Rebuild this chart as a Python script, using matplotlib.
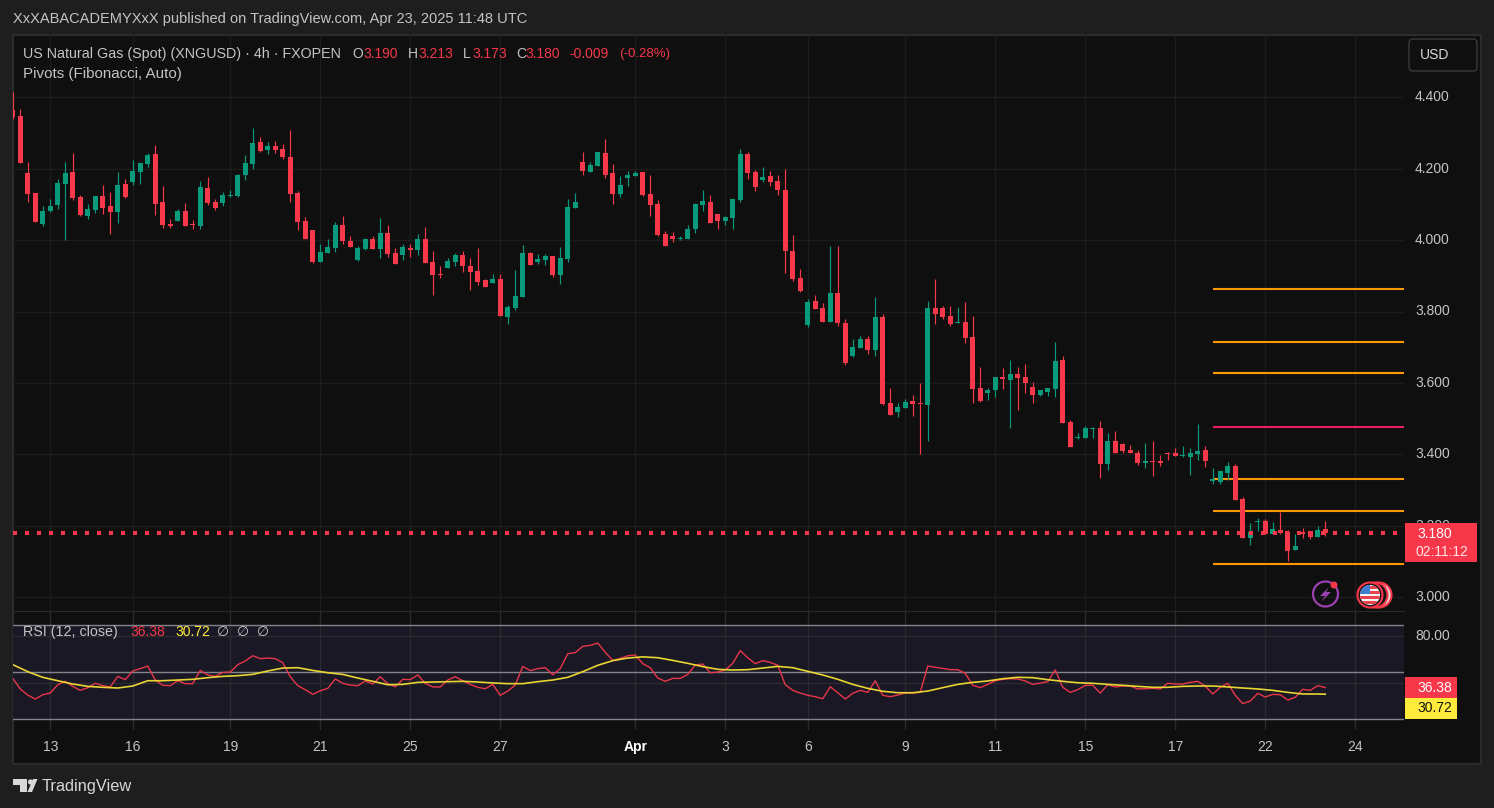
import matplotlib
matplotlib.use("Agg")
import matplotlib.pyplot as plt
from matplotlib.patches import Circle, FancyBboxPatch, Polygon, Rectangle
from matplotlib.transforms import ScaledTranslation

plt.rcParams["font.family"] = ["Liberation Sans", "DejaVu Sans"]

# candles, 4h bars
open_ = [
    4.364, 4.348, 4.188, 4.132, 4.045, 4.082, 4.099, 4.157, 4.191, 4.121,
    4.068, 4.085, 4.124, 4.096, 4.079, 4.157, 4.163, 4.191, 4.213, 4.241,
    4.107, 4.045, 4.054, 4.082, 4.045, 4.040, 4.146, 4.107, 4.104, 4.124,
    4.124, 4.183, 4.213, 4.275, 4.253, 4.264, 4.255, 4.233, 4.132, 4.054,
    4.029, 3.939, 3.964, 3.978, 4.043, 3.998, 3.945, 3.975, 4.003, 3.975,
    4.020, 3.964, 3.959, 3.978, 3.973, 4.003, 3.939, 3.905, 3.922, 3.939,
    3.959, 3.928, 3.914, 3.889, 3.880, 3.891, 3.785, 3.810, 3.841, 3.964,
    3.939, 3.945, 3.956, 3.903, 3.947, 4.090, 4.219, 4.191, 4.208, 4.244,
    4.188, 4.129, 4.174, 4.180, 4.191, 4.129, 4.101, 4.017, 4.012, 4.003,
    4.003, 4.031, 4.099, 4.107, 4.073, 4.054, 4.062, 4.113, 4.241, 4.191,
    4.168, 4.180, 4.166, 4.140, 3.970, 3.894, 3.763, 3.830, 3.810, 3.771,
    3.852, 3.768, 3.676, 3.698, 3.723, 3.693, 3.785, 3.544, 3.519, 3.530,
    3.550, 3.544, 3.539, 3.810, 3.810, 3.788, 3.768, 3.771, 3.729, 3.586,
    3.572, 3.581, 3.617, 3.609, 3.625, 3.617, 3.589, 3.567, 3.575, 3.583,
    3.664, 3.491, 3.446, 3.446, 3.471, 3.474, 3.373, 3.438, 3.429, 3.413,
    3.404, 3.376, 3.382, 3.382, 3.404, 3.404, 3.396, 3.393, 3.401, 3.413,
    3.326, 3.323, 3.348, 3.368, 3.275, 3.166, 3.211, 3.214, 3.177, 3.188,
    3.183, 3.133, 3.183, 3.186, 3.169, 3.190,
]
high = [
    4.415, 4.367, 4.219, 4.132, 4.096, 4.115, 4.171, 4.219, 4.244, 4.127,
    4.101, 4.124, 4.155, 4.135, 4.191, 4.171, 4.225, 4.216, 4.244, 4.267,
    4.152, 4.059, 4.087, 4.104, 4.057, 4.166, 4.177, 4.115, 4.135, 4.141,
    4.185, 4.238, 4.314, 4.289, 4.275, 4.278, 4.269, 4.308, 4.138, 4.065,
    4.029, 3.989, 4.003, 4.051, 4.068, 4.012, 3.984, 4.006, 4.012, 4.062,
    4.043, 3.978, 3.989, 3.989, 4.017, 4.037, 3.970, 3.928, 3.950, 3.964,
    3.970, 3.950, 3.978, 3.891, 3.905, 3.905, 3.819, 3.917, 3.987, 3.967,
    3.961, 3.961, 3.956, 3.981, 4.115, 4.132, 4.247, 4.219, 4.247, 4.283,
    4.213, 4.180, 4.194, 4.194, 4.191, 4.182, 4.113, 4.026, 4.023, 4.012,
    4.043, 4.104, 4.140, 4.127, 4.073, 4.068, 4.115, 4.255, 4.247, 4.196,
    4.205, 4.194, 4.182, 4.199, 4.015, 3.919, 3.835, 3.847, 3.824, 3.984,
    3.984, 3.779, 3.723, 3.732, 3.732, 3.841, 3.793, 3.586, 3.544, 3.556,
    3.567, 3.600, 3.830, 3.891, 3.816, 3.816, 3.813, 3.827, 3.788, 3.645,
    3.586, 3.617, 3.642, 3.664, 3.645, 3.653, 3.603, 3.581, 3.586, 3.715,
    3.676, 3.497, 3.460, 3.480, 3.477, 3.494, 3.460, 3.466, 3.432, 3.427,
    3.413, 3.432, 3.438, 3.399, 3.407, 3.418, 3.424, 3.418, 3.485, 3.424,
    3.362, 3.354, 3.379, 3.373, 3.281, 3.208, 3.222, 3.219, 3.211, 3.239,
    3.188, 3.177, 3.194, 3.186, 3.200, 3.213,
]
low = [
    4.340, 4.216, 4.107, 4.051, 4.040, 4.079, 4.087, 4.000, 4.113, 4.068,
    4.059, 4.076, 4.073, 4.017, 4.048, 4.118, 4.155, 4.157, 4.205, 4.071,
    4.034, 4.034, 4.054, 4.040, 4.031, 4.031, 4.099, 4.085, 4.096, 4.121,
    4.121, 4.169, 4.199, 4.247, 4.241, 4.244, 4.227, 4.107, 4.029, 4.003,
    3.936, 3.939, 3.964, 3.967, 3.989, 3.981, 3.942, 3.973, 3.975, 3.950,
    3.953, 3.933, 3.945, 3.953, 3.959, 3.936, 3.847, 3.894, 3.922, 3.928,
    3.911, 3.861, 3.875, 3.869, 3.880, 3.788, 3.765, 3.805, 3.841, 3.931,
    3.933, 3.931, 3.897, 3.877, 3.939, 4.090, 4.182, 4.191, 4.208, 4.174,
    4.101, 4.121, 4.152, 4.180, 4.124, 4.068, 4.012, 3.984, 3.995, 4.001,
    4.003, 4.020, 4.082, 4.048, 4.031, 4.043, 4.031, 4.107, 4.171, 4.138,
    4.163, 4.152, 4.127, 3.908, 3.886, 3.855, 3.757, 3.807, 3.771, 3.771,
    3.760, 3.651, 3.673, 3.698, 3.681, 3.676, 3.539, 3.511, 3.505, 3.530,
    3.508, 3.402, 3.438, 3.765, 3.779, 3.760, 3.768, 3.712, 3.544, 3.547,
    3.553, 3.561, 3.583, 3.474, 3.525, 3.572, 3.544, 3.564, 3.564, 3.561,
    3.488, 3.421, 3.443, 3.446, 3.446, 3.334, 3.357, 3.404, 3.404, 3.404,
    3.371, 3.362, 3.340, 3.368, 3.385, 3.396, 3.393, 3.343, 3.385, 3.365,
    3.317, 3.317, 3.329, 3.273, 3.166, 3.147, 3.186, 3.177, 3.177, 3.177,
    3.102, 3.133, 3.166, 3.163, 3.169, 3.173,
]
close = [
    4.345, 4.216, 4.129, 4.051, 4.082, 4.096, 4.160, 4.188, 4.118, 4.071,
    4.087, 4.124, 4.090, 4.079, 4.155, 4.121, 4.194, 4.216, 4.238, 4.101,
    4.043, 4.040, 4.082, 4.040, 4.043, 4.149, 4.104, 4.090, 4.127, 4.127,
    4.183, 4.216, 4.272, 4.250, 4.264, 4.253, 4.233, 4.129, 4.051, 4.003,
    3.939, 3.967, 3.981, 4.043, 3.998, 3.981, 3.978, 4.003, 3.975, 4.020,
    3.961, 3.933, 3.981, 3.973, 4.003, 3.936, 3.903, 3.903, 3.942, 3.959,
    3.928, 3.911, 3.883, 3.869, 3.891, 3.788, 3.813, 3.844, 3.964, 3.931,
    3.947, 3.956, 3.903, 3.950, 4.093, 4.107, 4.194, 4.210, 4.247, 4.182,
    4.129, 4.155, 4.182, 4.188, 4.126, 4.099, 4.015, 3.984, 4.003, 4.006,
    4.031, 4.101, 4.110, 4.048, 4.054, 4.065, 4.115, 4.241, 4.188, 4.149,
    4.177, 4.163, 4.140, 3.970, 3.891, 3.858, 3.827, 3.807, 3.771, 3.852,
    3.768, 3.656, 3.701, 3.723, 3.693, 3.785, 3.542, 3.511, 3.533, 3.547,
    3.542, 3.542, 3.810, 3.793, 3.785, 3.765, 3.771, 3.726, 3.583, 3.550,
    3.581, 3.617, 3.611, 3.625, 3.614, 3.600, 3.567, 3.581, 3.586, 3.662,
    3.488, 3.421, 3.449, 3.474, 3.474, 3.373, 3.438, 3.404, 3.410, 3.404,
    3.376, 3.382, 3.379, 3.376, 3.401, 3.396, 3.399, 3.404, 3.410, 3.382,
    3.331, 3.354, 3.368, 3.273, 3.166, 3.183, 3.214, 3.177, 3.191, 3.180,
    3.130, 3.144, 3.177, 3.169, 3.188, 3.180,
]

rsi = [
    44.2, 35.2, 30.0, 26.6, 30.3, 31.7, 38.8, 41.7, 37.4, 34.0,
    36.3, 40.0, 38.0, 36.9, 45.9, 43.1, 50.5, 52.5, 54.7, 42.8,
    38.3, 38.0, 42.2, 39.7, 39.7, 51.0, 47.1, 45.9, 49.3, 49.6,
    55.9, 59.0, 63.5, 61.0, 61.5, 61.0, 57.6, 45.6, 38.0, 34.6,
    30.6, 33.7, 35.7, 43.7, 40.0, 38.5, 38.0, 42.0, 39.4, 45.6,
    39.7, 37.1, 43.4, 43.1, 47.1, 40.0, 36.9, 36.9, 42.8, 45.6,
    42.2, 39.1, 36.6, 35.4, 39.1, 29.8, 33.4, 38.5, 54.4, 50.8,
    52.5, 53.3, 47.3, 52.5, 65.2, 66.1, 71.5, 72.3, 74.3, 66.4,
    59.5, 61.2, 63.5, 64.1, 56.7, 53.3, 44.5, 41.7, 44.2, 44.2,
    47.6, 55.6, 56.4, 49.0, 49.6, 51.3, 57.0, 67.8, 61.8, 56.7,
    59.3, 57.8, 55.3, 38.8, 34.0, 31.7, 29.8, 28.6, 26.9, 37.1,
    32.0, 26.6, 31.5, 34.0, 32.3, 42.2, 29.8, 28.6, 30.0, 31.7,
    31.7, 32.3, 54.7, 53.6, 52.7, 51.6, 51.6, 48.5, 38.3, 36.3,
    39.1, 42.2, 43.4, 43.9, 43.7, 42.0, 39.1, 40.2, 41.4, 51.3,
    36.6, 32.3, 34.6, 38.3, 38.3, 31.7, 38.8, 36.9, 37.7, 37.7,
    35.2, 35.4, 35.7, 35.2, 40.0, 39.4, 39.4, 40.8, 41.7, 37.7,
    30.9, 36.6, 40.0, 29.8, 22.7, 24.9, 31.5, 28.3, 30.6, 30.3,
    25.8, 28.1, 34.9, 34.0, 38.0, 36.38,
]
# the smoothed line was read at every second bar
rsi_ma_bars = list(range(0, 176, 2)) + [175]
rsi_ma = [
    55.9, 49.9, 45.1, 42.2, 39.4, 37.4, 36.6, 36.0, 37.7, 42.2,
    42.2, 42.8, 43.4, 44.8, 45.9, 46.5, 47.6, 50.5, 53.0, 53.3,
    51.0, 49.0, 47.6, 44.5, 41.7, 38.8, 39.1, 40.8, 41.1, 41.4,
    41.7, 41.1, 40.3, 39.7, 39.7, 41.4, 42.8, 45.1, 49.9, 55.3,
    59.3, 61.5, 62.5, 61.8, 59.5, 57.0, 54.2, 51.9, 51.3, 51.6,
    53.0, 54.4, 53.3, 50.2, 47.1, 43.4, 39.1, 35.7, 33.2, 32.0,
    32.0, 33.4, 36.3, 39.1, 40.8, 42.0, 43.9, 45.1, 44.8, 43.1,
    41.7, 40.5, 40.0, 39.1, 38.3, 37.4, 36.6, 36.6, 37.4, 37.7,
    37.7, 36.9, 36.0, 35.2, 34.0, 32.3, 30.9, 30.9, 30.72,
]

pivot_levels = [3.862, 3.715, 3.627, 3.331, 3.242, 3.093]
pivot_p = 3.477
pivot_start = 160
pivot_end = 185.5

price_ticks = [3.0, 3.2, 3.4, 3.6, 3.8, 4.0, 4.2, 4.4]
rsi_ticks = [80, 40]
rsi_bands = [90, 50, 10]
time_bars = [5, 16, 29, 41, 53, 65, 83, 95, 106, 119, 131, 143, 155, 167, 179]
time_labels = ["13", "16", "19", "21", "25", "27", "Apr", "3", "6", "9", "11", "15", "17", "22", "24"]

RED = "#f7374a"
GREEN = "#089a7b"
ORANGE = "#ff9800"
PINK = "#e91e63"
YELLOW = "#e8d534"
GRID = "#1c1c1c"
TEXT = "#c4c4c4"
W, H = 1494, 808


def axes_px(x0, y0, x1, y1):
    return fig.add_axes([x0 / W, 1 - y1 / H, (x1 - x0) / W, (y1 - y0) / H])


def raise_labels(axis, points):
    # the price scale sits a bit above its grid lines
    for t in axis.get_yticklabels():
        t.set_transform(t.get_transform() + ScaledTranslation(0, points / 72, fig.dpi_scale_trans))


fig = plt.figure(figsize=(W / 100, H / 100), dpi=100, facecolor="#1e1e1e")
fig.add_artist(Rectangle((13 / W, 1 - 764 / H), 1468 / W, 729 / H, transform=fig.transFigure,
                         facecolor="#0f0f0f", edgecolor="#2b2b2b", linewidth=1.5, zorder=-1))

ax = axes_px(13, 35, 1404, 611)
ax.set_facecolor("none")
ax.set_xlim(0.03, 185.5)
ax.set_ylim(2.9616, 4.5744)
for s in ax.spines.values():
    s.set_visible(False)
ax.spines["bottom"].set_visible(True)
ax.spines["bottom"].set_color("#2a2a2a")
ax.set_axisbelow(True)
ax.grid(True, color=GRID, linewidth=1)
ax.set_xticks(time_bars)
ax.set_yticks(price_ticks)
ax.set_yticklabels([f"{p:.3f}" for p in price_ticks], color=TEXT, fontsize=10)
ax.yaxis.tick_right()
ax.tick_params(axis="y", length=0, pad=8)
ax.tick_params(axis="x", length=0, labelbottom=False)
raise_labels(ax, 1.2)

for lv in pivot_levels:
    ax.hlines(lv, pivot_start, pivot_end, color=ORANGE, linewidth=1.5, zorder=2)
ax.hlines(pivot_p, pivot_start, pivot_end, color=PINK, linewidth=1.5, zorder=2)

bars = range(len(open_))
colors = [GREEN if c >= o else RED for o, c in zip(open_, close)]
ax.vlines(bars, low, high, colors=colors, linewidth=0.85, zorder=3)
ax.bar(bars, [max(abs(c - o), 0.0028) for o, c in zip(open_, close)],
       bottom=[min(o, c) for o, c in zip(open_, close)],
       width=0.72, color=colors, linewidth=0, zorder=4)
ax.axhline(close[-1], color=RED, linewidth=2.88, linestyle=(0, (1, 2)), zorder=5)

ax2 = axes_px(13, 612, 1404, 730)
ax2.set_facecolor("none")
ax2.set_xlim(0.03, 185.5)
ax2.set_ylim(0.26, 100.7)
for s in ax2.spines.values():
    s.set_visible(False)
ax2.axhspan(rsi_bands[-1], rsi_bands[0], color="#1a1824", linewidth=0, zorder=0)
ax2.set_axisbelow(True)
ax2.grid(True, color="#2a2a30", linewidth=1)
ax2.set_xticks(time_bars)
ax2.set_xticklabels(time_labels, color=TEXT, fontsize=10)
ax2.get_xticklabels()[time_labels.index("Apr")].set_fontweight("bold")
ax2.get_xticklabels()[time_labels.index("Apr")].set_color("#ffffff")
ax2.set_yticks(rsi_ticks)
ax2.set_yticklabels(["80.00", ""], color=TEXT, fontsize=10)
ax2.yaxis.tick_right()
ax2.tick_params(axis="y", length=0, pad=8)
ax2.tick_params(axis="x", length=0, pad=7)
raise_labels(ax2, 1.2)
for b in rsi_bands:
    ax2.axhline(b, color="#84848c", linewidth=1, zorder=1)
ax2.plot(bars, rsi, color="#e8364a", linewidth=1.0, zorder=3)
ax2.plot(rsi_ma_bars, rsi_ma, color=YELLOW, linewidth=1.2, zorder=4)

# everything that is not a chart mark: header, tags, icons, in pixels
top = fig.add_axes([0, 0, 1, 1], zorder=10)
top.set_xlim(0, W)
top.set_ylim(H, 0)
top.axis("off")


def label(x, y, s, color=TEXT, size=10, **kw):
    top.text(x, y, s, color=color, fontsize=size, va="center", ha=kw.pop("ha", "left"), **kw)


label(13, 19.5, "XxXABACADEMYXxX published on TradingView.com, Apr 23, 2025 11:48 UTC", size=10.5)
label(23, 54, "US Natural Gas (Spot) (XNGUSD) · 4h · FXOPEN", size=10.25)
for x, s in [(352, "O"), (408, "H"), (463, "L"), (516, "C")]:
    label(x, 54, s)
for x, s in [(363, "3.190"), (418, "3.213"), (472, "3.173"), (525, "3.180"), (569, "-0.009")]:
    label(x, 54, s, color=RED)
label(619, 54, "(-0.28%)", color=RED, size=9.5)
label(23, 74, "Pivots (Fibonacci, Auto)", size=10.9)

label(23, 632, "RSI (12, close)", size=10.3)
label(130, 632, "36.38", color=RED)
label(175, 632, "30.72", color="#ffeb3b")
for x in (217, 237, 257):
    label(x, 632, "\u2205")

top.add_patch(FancyBboxPatch((1412, 42), 62, 26, boxstyle="round,pad=3,rounding_size=4",
                             facecolor="#0f0f0f", edgecolor="#3a3a3a", linewidth=1))
label(1420, 55, "USD", color="#d8d8d8")

top.add_patch(Rectangle((1405, 523), 72, 39, facecolor=RED, linewidth=0, zorder=3))
label(1417, 534, "3.180", color="#ffffff", zorder=4)
label(1416, 552, "02:11:12", color="#ffe3e6", zorder=4)
top.add_patch(Rectangle((1405, 677), 52, 21, facecolor=RED, linewidth=0, zorder=3))
label(1417, 688, "36.38", color="#ffffff", zorder=4)
top.add_patch(Rectangle((1405, 698), 52, 21, facecolor="#ffeb3b", linewidth=0, zorder=3))
label(1417, 708.5, "30.72", color="#131313", zorder=4)

# lightning icon
top.add_patch(Circle((1325.5, 594), 12.5, facecolor="none", edgecolor="#9c3fb0", linewidth=1.6))
top.add_patch(Polygon([(1329, 587), (1320, 596), (1325, 596), (1321, 602), (1331, 592), (1326, 592)],
                      facecolor="#9c3fb0", linewidth=0))
top.add_patch(Circle((1334, 585), 3.5, facecolor=RED, linewidth=0))

# flag icons
top.add_patch(Circle((1379, 595), 12.5, facecolor="#e8e0e0", edgecolor=RED, linewidth=1.5))
top.add_patch(Circle((1375, 595), 12.5, facecolor="#151515", edgecolor=RED, linewidth=1.5))
top.add_patch(Circle((1370, 595), 12.5, facecolor="#151515", edgecolor=RED, linewidth=1.5))
disc = Circle((1370, 595), 10, facecolor="#f5f5f5", linewidth=0)
top.add_patch(disc)
for sy in (586, 591, 596, 601):
    st = top.add_patch(Rectangle((1359, sy), 22, 2.6, facecolor="#e8434f", linewidth=0))
    st.set_clip_path(disc)
st = top.add_patch(Rectangle((1359, 584), 11, 10, facecolor="#3f7fd0", linewidth=0))
st.set_clip_path(disc)

# logo
top.add_patch(Polygon([(13, 779), (27, 779), (27, 792), (20, 792), (20, 785), (13, 785)],
                      facecolor="#d8d8d8", linewidth=0))
top.add_patch(Circle((30.5, 782), 2.6, facecolor="#d8d8d8", linewidth=0))
top.add_patch(Polygon([(33, 779), (37.5, 779), (32, 792), (27.5, 792)], facecolor="#d8d8d8", linewidth=0))
label(42, 787, "TradingView", color="#d8d8d8", size=11.8)

fig.savefig("out.png", dpi=100, facecolor=fig.get_facecolor())
